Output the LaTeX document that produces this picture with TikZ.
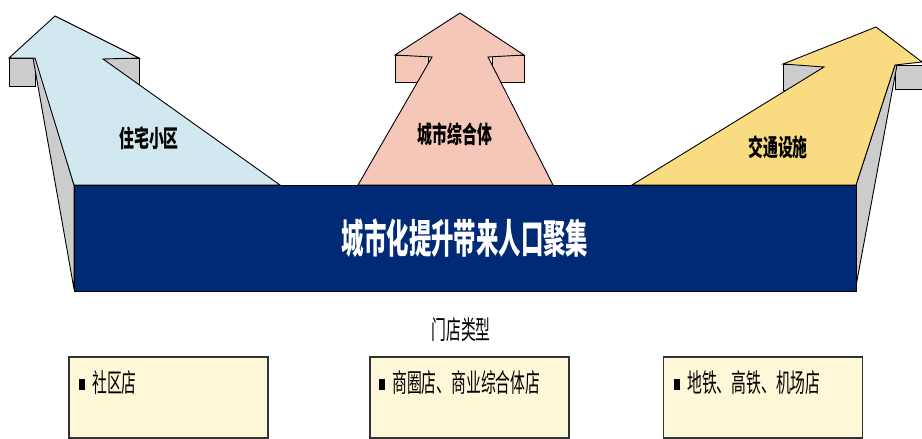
\documentclass[tikz,border=0pt]{standalone}
\usepackage{fontspec}
\newfontfamily\cjkbox[FakeStretch=0.57]{Noto Sans CJK SC}
\newfontfamily\cjklab[FakeStretch=0.62]{Noto Sans CJK SC}
\newfontfamily\cjktitle[FakeStretch=0.56]{Noto Sans CJK SC}
\definecolor{lblue}{RGB}{210,232,240}
\definecolor{lpink}{RGB}{244,199,184}
\definecolor{lyellow}{RGB}{249,220,130}
\definecolor{sidegray}{RGB}{204,204,204}
\definecolor{navy}{RGB}{0,42,118}
\definecolor{cream}{RGB}{255,248,216}
\begin{document}
\begin{tikzpicture}[x=1pt,y=-1pt,
  outl/.style={draw=black,line width=0.9pt,line join=miter},
  grayface/.style={outl,fill=sidegray},
  band/.style={fill=navy,draw=black,line width=0.8pt,inner sep=0pt,minimum width=782pt,minimum height=106pt,
    text=white,font=\cjktitle\bfseries\fontsize{40}{40}\selectfont},
  arrowlab/.style={inner sep=0pt,font=\cjklab\bfseries\fontsize{24}{24}\selectfont},
  storebox/.style={fill=cream,draw=black!80,line width=1.2pt,inner sep=0pt,minimum width=199pt,minimum height=81pt},
  boxtext/.style={anchor=west,inner sep=0pt,font=\cjkbox\fontsize{26}{26}\selectfont},
  heading/.style={inner sep=0pt,font=\cjkbox\fontsize{26}{26}\selectfont}
]
\useasboundingbox (0,0) rectangle (922,439);

% ---- left arrow
\draw[grayface] (9,58) rectangle (35,86);
\draw[grayface] (103,58) rectangle (139,84);
\draw[grayface] (33,58) -- (74,289) -- (74,185) -- (36,58) -- cycle;
\draw[outl,fill=lblue] (55,16) -- (139,58) -- (103,59) -- (280,185) -- (74,185) -- (35,58) -- (9,58) -- cycle;

% ---- middle arrow
\draw[outl,fill=lpink] (395,55) rectangle (428,82);
\draw[outl,fill=lpink] (492,55) rectangle (524,82);
\draw[outl,fill=lpink] (460,13) -- (524,55) -- (488,57) -- (553,185) -- (358,185) -- (432,57) -- (395,55) -- cycle;

% ---- right arrow
\draw[grayface] (783,64) rectangle (824,90);
\draw[grayface] (895,65) rectangle (922,89);
\draw[grayface] (897,65) -- (856,286) -- (856,185) -- (895,65) -- cycle;
\draw[outl,fill=lyellow] (876,27) -- (922,62) -- (895,65) -- (856,185) -- (632,185) -- (824,67) -- (783,64) -- cycle;

% ---- band
\node[band] (band) at (465,238) {城市化提升带来人口聚集};

% ---- arrow labels
\node[arrowlab] (lab1) at (149,138) {住宅小区};
\node[arrowlab] (lab2) at (455,134) {城市综合体};
\node[arrowlab] (lab3) at (778,147) {交通设施};

% ---- store types
\node[heading] (head) at (461,330) {门店类型};
\node[storebox] (box1) at (168.5,397.5) {};
\node[storebox] (box2) at (469.5,397.5) {};
\node[storebox] (box3) at (763,397.5) {};
\node[boxtext] (t1) at (79,383) {\rule[3pt]{6pt}{11pt}\hspace{7pt}社区店};
\node[boxtext] (t2) at (379,383) {\rule[3pt]{6pt}{11pt}\hspace{7pt}商圈店、商业综合体店};
\node[boxtext] (t3) at (674,383) {\rule[3pt]{6pt}{11pt}\hspace{7pt}地铁、高铁、机场店};
\end{tikzpicture}
\end{document}
